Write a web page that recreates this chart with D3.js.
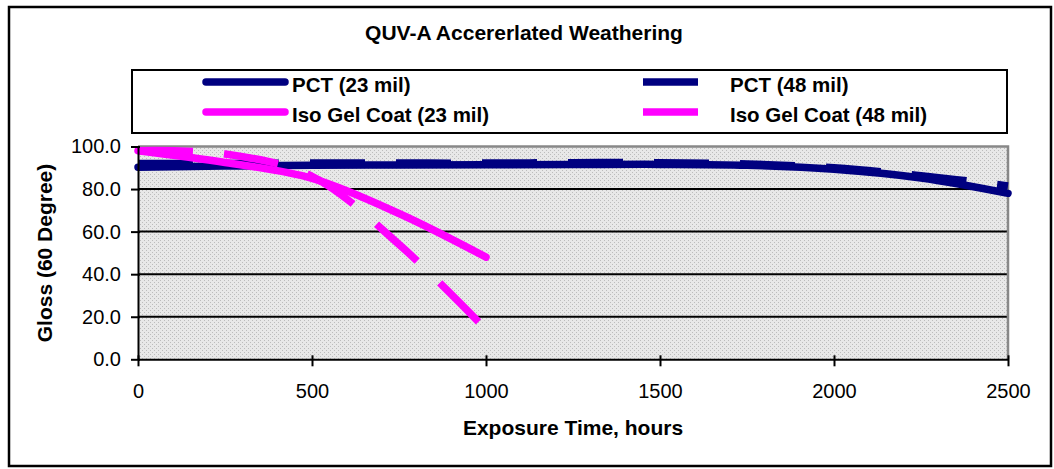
<!DOCTYPE html>
<html>
<head>
<meta charset="utf-8">
<script src="https://cdn.jsdelivr.net/npm/d3@7"></script>
<style>
  body { margin: 0; background: #fff; }
  text { font-family: "Liberation Sans", Arial, sans-serif; }
</style>
</head>
<body>
<div id="chart"></div>
<script>
var width = 1054, height = 469;

// exposure hours for each reading
var hoursPct = [0, 250, 500, 750, 1000, 1250, 1500, 1750, 2000, 2250, 2500];
var pct23 = [90.3, 90.8, 91.2, 91.3, 91.4, 91.5, 91.6, 91.2, 89.3, 85.2, 78.0];
var pct48 = [92.0, 92.0, 92.2, 92.2, 92.2, 92.4, 92.4, 91.8, 90.0, 86.3, 81.5];
var hoursIso = [0, 250, 500, 750, 1000];
var iso23 = [98.0, 92.5, 85.0, 68.5, 48.0];
var iso48 = [98.0, 96.5, 86.0, 54.0, 14.0];

var seriesNames = ["PCT (23 mil)", "PCT (48 mil)", "Iso Gel Coat (23 mil)", "Iso Gel Coat (48 mil)"];
var xTicks = [0, 500, 1000, 1500, 2000, 2500];
var yTicks = [0, 20, 40, 60, 80, 100];

var series = [
  { name: seriesNames[0], x: hoursPct, y: pct23, color: "#000080", dash: null },
  { name: seriesNames[1], x: hoursPct, y: pct48, color: "#000080", dash: "55,31" },
  { name: seriesNames[2], x: hoursIso, y: iso23, color: "#FF00FF", dash: null },
  { name: seriesNames[3], x: hoursIso, y: iso48, color: "#FF00FF", dash: "55,31" }
];

var svg = d3.select("#chart").append("svg")
  .attr("width", width).attr("height", height);

// dotted fill of the plot area
var pat = svg.append("defs").append("pattern")
  .attr("id", "dots").attr("width", 4).attr("height", 4)
  .attr("patternUnits", "userSpaceOnUse");
pat.append("rect").attr("width", 4).attr("height", 4).attr("fill", "#e8e8e8");
pat.append("rect").attr("x", 0).attr("y", 0).attr("width", 1).attr("height", 1).attr("fill", "#bcbcbc");
pat.append("rect").attr("x", 2).attr("y", 2).attr("width", 1).attr("height", 1).attr("fill", "#bcbcbc");

// outer frame
svg.append("rect")
  .attr("x", 9).attr("y", 7).attr("width", 1042).attr("height", 459)
  .attr("fill", "#fff").attr("stroke", "#000").attr("stroke-width", 2.5);

var plotL = 138, plotR = 1008, plotT = 146.5, plotB = 359.3;

var xScale = d3.scaleLinear().domain([0, 2500]).range([plotL, plotR]);
var yScale = d3.scaleLinear().domain([0, 100]).range([plotB, plotT]);

// plot area
svg.append("rect")
  .attr("x", plotL).attr("y", plotT).attr("width", plotR - plotL).attr("height", plotB - plotT)
  .attr("fill", "url(#dots)");

// gridlines
svg.append("g").selectAll("line").data(yTicks.filter(function(d){ return d > 0 && d < 100; }))
  .enter().append("line")
  .attr("x1", plotL).attr("x2", plotR)
  .attr("y1", function(d){ return yScale(d); })
  .attr("y2", function(d){ return yScale(d); })
  .attr("stroke", "#000").attr("stroke-width", 2);

// grey top and right border
svg.append("path")
  .attr("d", "M" + plotL + "," + plotT + "H" + plotR + "V" + plotB)
  .attr("fill", "none").attr("stroke", "#888").attr("stroke-width", 2.5);

// series lines
var line = d3.line()
  .x(function(d){ return xScale(d[0]); })
  .y(function(d){ return yScale(d[1]); })
  .curve(d3.curveCatmullRom.alpha(0.5));

series.forEach(function(s) {
  var pts = s.x.map(function(h, i){ return [h, s.y[i]]; });
  svg.append("path")
    .attr("d", line(pts))
    .attr("fill", "none")
    .attr("stroke", s.color)
    .attr("stroke-width", 7.5)
    .attr("stroke-linecap", s.dash ? "butt" : "round")
    .attr("stroke-linejoin", "round")
    .attr("stroke-dasharray", s.dash);
});

// axes
var xAxis = d3.axisBottom(xScale).tickValues(xTicks).tickFormat(d3.format("d"))
  .tickSizeInner(7).tickSizeOuter(0);
var yAxis = d3.axisLeft(yScale).tickValues(yTicks).tickFormat(d3.format(".1f"))
  .tickSizeInner(7).tickSizeOuter(0);

var gx = svg.append("g").attr("transform", "translate(0," + plotB + ")").call(xAxis);
var gy = svg.append("g").attr("transform", "translate(" + plotL + ",0)").call(yAxis);

[gx, gy].forEach(function(g) {
  g.select(".domain").attr("stroke", "#000").attr("stroke-width", 2);
  g.selectAll(".tick line").attr("stroke", "#000").attr("stroke-width", 2);
  g.selectAll(".tick text").attr("fill", "#000").style("font-size", "20px")
    .style("font-family", "'Liberation Sans', Arial, sans-serif");
});
gx.selectAll(".tick line").attr("y1", -4);
gx.selectAll(".tick text").attr("y", 25);
gy.selectAll(".tick line").attr("x1", 2);
gy.selectAll(".tick text").attr("x", -17);

// titles
svg.append("text")
  .attr("x", 524).attr("y", 40)
  .attr("text-anchor", "middle")
  .style("font-size", "21px").style("font-weight", "bold")
  .text("QUV-A Accererlated Weathering");

svg.append("text")
  .attr("x", (plotL + plotR) / 2).attr("y", 435)
  .attr("text-anchor", "middle")
  .style("font-size", "21px").style("font-weight", "bold")
  .text("Exposure Time, hours");

svg.append("text")
  .attr("transform", "translate(52,253) rotate(-90)")
  .attr("text-anchor", "middle")
  .style("font-size", "21px").style("font-weight", "bold")
  .text("Gloss (60 Degree)");

// legend
svg.append("rect")
  .attr("x", 132).attr("y", 70).attr("width", 875).attr("height", 63)
  .attr("fill", "#fff").attr("stroke", "#000").attr("stroke-width", 2);

var legendPos = [
  { sx: 206, ex: 285, tx: 292, y: 82 },
  { sx: 643, ex: 698, tx: 730, y: 82 },
  { sx: 206, ex: 285, tx: 292, y: 112 },
  { sx: 643, ex: 698, tx: 730, y: 112 }
];

series.forEach(function(s, i) {
  var p = legendPos[i];
  svg.append("line")
    .attr("x1", p.sx).attr("x2", p.ex).attr("y1", p.y).attr("y2", p.y)
    .attr("stroke", s.color).attr("stroke-width", 7.5)
    .attr("stroke-linecap", s.dash ? "butt" : "round");
  svg.append("text")
    .attr("x", p.tx).attr("y", p.y + 9.5)
    .style("font-size", "20.5px").style("font-weight", "bold")
    .text(s.name);
});
</script>
</body>
</html>
